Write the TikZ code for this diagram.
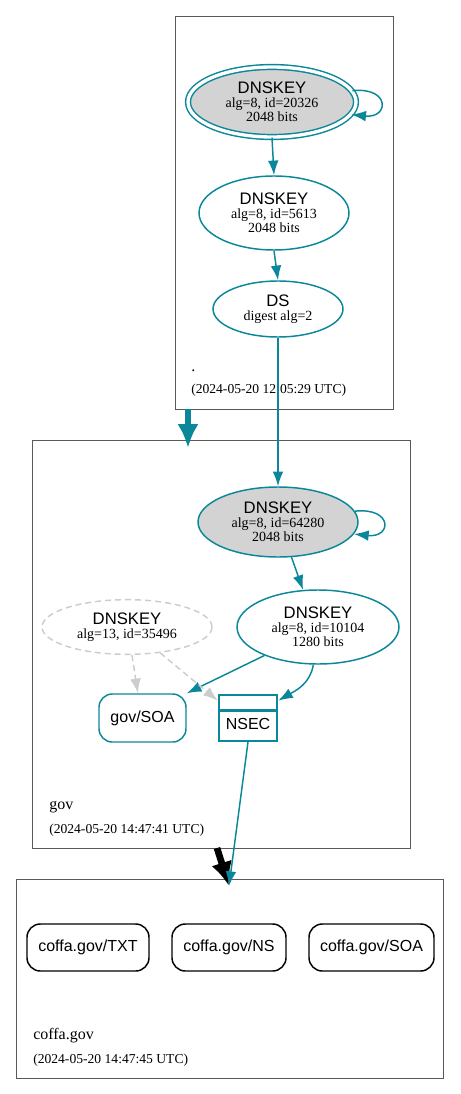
\documentclass[tikz,border=0pt]{standalone}
\usepackage{fontspec}
\setmainfont{Liberation Serif}
\setsansfont{Liberation Sans}
\usepackage{tikz}
\usepackage{xcolor}
\usetikzlibrary{shapes.geometric,shapes.multipart}
\usetikzlibrary{arrows.meta}
\usetikzlibrary{calc}
\definecolor{dnsteal}{HTML}{0A879A}
\definecolor{keygray}{HTML}{D3D3D3}
\definecolor{offgray}{HTML}{CCCCCC}
\tikzset{>={Latex[length=11pt,width=8pt]}}
\tikzset{
	zone/.style={draw=black!65,line width=0.5pt},
	zonename/.style={anchor=base west,inner sep=0pt,font=\fontsize{12}{14}\selectfont},
	zonetime/.style={anchor=base west,inner sep=0pt,font=\fontsize{10.2}{12}\selectfont},
	dnskey/.style={ellipse,draw=dnsteal,line width=1.1pt,inner sep=0pt,align=center,
		font=\fontsize{10.5}{10.5}\selectfont},
	ksk/.style={dnskey,fill=keygray},
	anchorkey/.style={ksk,double=white,double distance=2.5pt},
	offkey/.style={dnskey,draw=offgray,dash pattern=on 4.5pt off 3pt},
	rrset/.style={rectangle,rounded corners=10pt,draw,line width=1.1pt,inner sep=0pt,
		font=\sffamily\fontsize{12}{14}\selectfont},
	nsecset/.style={rectangle split,rectangle split parts=2,draw=dnsteal,line width=1.8pt,
		inner xsep=5pt,inner ysep=2.5pt,rectangle split empty part height=4pt,
		minimum width=43.5pt,font=\sffamily\fontsize{12}{14}\selectfont},
	edge/.style={->,draw=dnsteal,line width=1.1pt},
	offedge/.style={->,draw=offgray,line width=1.1pt,dash pattern=on 4.5pt off 3pt},
	zoneedge/.style={-{Latex[length=18pt,width=16pt]},line width=5pt},
}

\begin{document}
\begin{tikzpicture}[x=0.75pt,y=-0.75pt]
	\def\keylabel#1#2#3{{\sffamily\fontsize{12.5}{14}\selectfont #1}\\#2\\#3}
	\def\selfloop#1{ % #1 key node
		\draw[edge] (#1.8) .. controls +(38,-4) and +(38,4) .. (#1.-9);
	}
	\useasboundingbox (0,0) rectangle (460,1094);
	% zones
	\draw[zone] (175,16) rectangle (393,409);
	\draw[zone] (32,440) rectangle (410,848);
	\draw[zone] (16,879) rectangle (443,1078);
	\coordinate (rootout) at (188,409);
	\coordinate (govin) at (188,448);
	\coordinate (govout) at (217,848);
	\coordinate (coffain) at (229,886);
	
	\node[zonename] (rootname) at (191,371) {.};
	\node[zonetime] (roottime) at (191,393) {(2024-05-20 12:05:29 UTC)};
	\node[zonename] (govname) at (49,809) {gov};
	\node[zonetime] (govtime) at (49,833) {(2024-05-20 14:47:41 UTC)};
	\node[zonename] (coffaname) at (33,1039) {coffa.gov};
	\node[zonetime] (coffatime) at (33,1063) {(2024-05-20 14:47:45 UTC)};
	
	\draw[zoneedge,dnsteal] (rootout) -- (govin);
	\draw[zoneedge,black] (govout) -- (coffain);
	
	% root
	\node[anchorkey,minimum width=126pt,minimum height=52.5pt] (rootksk) at (272,102)
		{\keylabel{DNSKEY}{alg=8, id=20326}{2048 bits}};
	\node[dnskey,minimum width=112.5pt,minimum height=55.5pt] (rootzsk) at (274,213)
		{\keylabel{DNSKEY}{alg=8, id=5613}{2048 bits}};
	\node[dnskey,minimum width=97.5pt,minimum height=42pt] (govds) at (278,309)
		{{\sffamily\fontsize{12.5}{14}\selectfont DS}\\digest alg=2};
	
	% gov
	\node[ksk,minimum width=120pt,minimum height=52.5pt] (govksk) at (278,522)
		{\keylabel{DNSKEY}{alg=8, id=64280}{2048 bits}};
	\node[dnskey,minimum width=121.5pt,minimum height=55.5pt] (govzsk) at (318,627)
		{\keylabel{DNSKEY}{alg=8, id=10104}{1280 bits}};
	\node[offkey,minimum width=127.5pt,minimum height=41pt] (govoff) at (127,627)
		{{\sffamily\fontsize{12.5}{14}\selectfont DNSKEY}\\alg=13, id=35496};
	\node[rrset,draw=dnsteal,minimum width=65.25pt,minimum height=36pt] (govsoa) at (142.5,718) {gov/SOA};
	\node[nsecset] (govnsec) at (248,718) {\nodepart{two}\rule[-5pt]{0pt}{16pt}NSEC};
	
	% coffa.gov
	\node[rrset,minimum width=91.5pt,minimum height=35.25pt] (coffatxt) at (88,947.5) {coffa.gov/TXT};
	\node[rrset,minimum width=85.5pt,minimum height=35.25pt] (coffans) at (229,947.5) {coffa.gov/NS};
	\node[rrset,minimum width=93.75pt,minimum height=35.25pt] (coffasoa) at (371.5,947.5) {coffa.gov/SOA};
	
	\selfloop{rootksk}
	\selfloop{govksk}
	\draw[edge] (rootksk.south) -- (rootzsk.north);
	\draw[edge] (rootzsk.south) -- (govds.north);
	\draw[edge] (govds.south) -- (govksk.north);
	\draw[edge] (govksk.-69) -- (govzsk.112);
	\draw[edge] (govzsk.208) -- (govsoa.north east);
	\draw[edge] (govzsk.-97) to[out=-100,in=30] ([yshift=-5pt]govnsec.north east);
	\draw[offedge] (govoff.-80) -- ([xshift=-3.5pt]govsoa.north);
	\draw[offedge] (govoff.-38) -- ([yshift=-5pt]govnsec.north west);
	\draw[edge] (govnsec.south) -- (coffain);
\end{tikzpicture}
\end{document}
